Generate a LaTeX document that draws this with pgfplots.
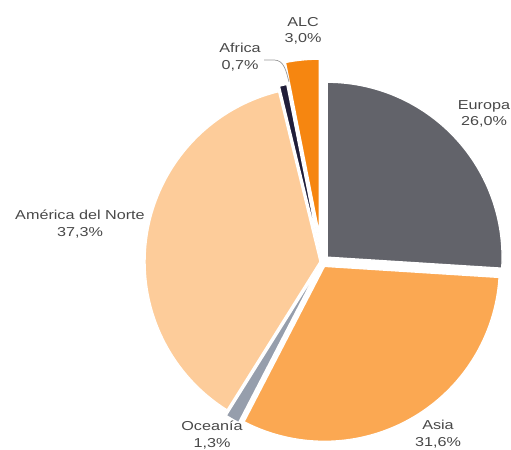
\documentclass[border=0pt]{standalone}
\usepackage{pgfplots}
\pgfplotsset{compat=1.18}
\usepackage{fontspec}
\setmainfont{Liberation Sans}
\newfontfamily\lab[FakeStretch=1.25]{Liberation Sans}
\definecolor{europa}{RGB}{98,99,106}
\definecolor{asia}{RGB}{251,168,82}
\definecolor{oceania}{RGB}{150,158,172}
\definecolor{norte}{RGB}{253,204,154}
\definecolor{africa}{RGB}{32,30,58}
\definecolor{alc}{RGB}{246,134,16}
\definecolor{txt}{RGB}{72,72,72}
% shares in percent (clockwise from 12 o'clock)
\def\pEur{26.0}\def\pAsi{31.6}\def\pOce{1.3}\def\pNor{37.3}\def\pAfr{0.7}\def\pAlc{3.0}
% slice: start angle, end angle, explode, colour
\newcommand{\slice}[4]{%
  \addplot[fill=#4, draw=white, line width=1.4pt, line join=round, domain=#2:#1, samples=90, variable=\t]
    ({322+#3*cos((#1+#2)/2)+175*cos(t)},{188+#3*sin((#1+#2)/2)+175*sin(t)})
    -- (axis cs:{322+#3*cos((#1+#2)/2)},{188+#3*sin((#1+#2)/2)}) -- cycle;}
\begin{document}
\begin{tikzpicture}
\pgfmathsetmacro\aA{90}
\pgfmathsetmacro\aB{\aA-3.6*\pEur}
\pgfmathsetmacro\aC{\aB-3.6*\pAsi}
\pgfmathsetmacro\aD{\aC-3.6*\pOce}
\pgfmathsetmacro\aE{\aD-3.6*\pNor}
\pgfmathsetmacro\aF{\aE-3.6*\pAfr}
\pgfmathsetmacro\aG{-270}
\begin{axis}[scale only axis, width=511bp, height=450bp,
  xmin=0, xmax=511, ymin=0, ymax=450, hide axis, clip=false]
\edef\doslices{%
  \noexpand\slice{\aA}{\aB}{7}{europa}
  \noexpand\slice{\aB}{\aC}{5}{asia}
  \noexpand\slice{\aC}{\aD}{6}{oceania}
  \noexpand\slice{\aD}{\aE}{2}{norte}
  \noexpand\slice{\aE}{\aF}{6}{africa}
  \noexpand\slice{\aF}{\aG}{28}{alc}}
\doslices
\draw[gray!80, line width=0.7pt] (axis cs:264,390) -- (axis cs:274,390) to[out=0,in=105] (axis cs:289,368);
\begin{scope}[every node/.style={align=center, text=txt, font=\lab\fontsize{13}{16.5}\selectfont, inner sep=0pt}]
\node at (axis cs:303,419) {ALC\\3,0\%};
\node at (axis cs:240,393) {Africa\\0,7\%};
\node at (axis cs:484,336) {Europa\\26,0\%};
\node at (axis cs:80,226) {América del Norte\\37,3\%};
\node at (axis cs:212,15) {Oceanía\\1,3\%};
\node at (axis cs:438,16) {Asia\\31,6\%};
\end{scope}
\end{axis}
\pgfresetboundingbox
\useasboundingbox (current axis.south west) rectangle (current axis.north east);
\end{tikzpicture}
\end{document}
